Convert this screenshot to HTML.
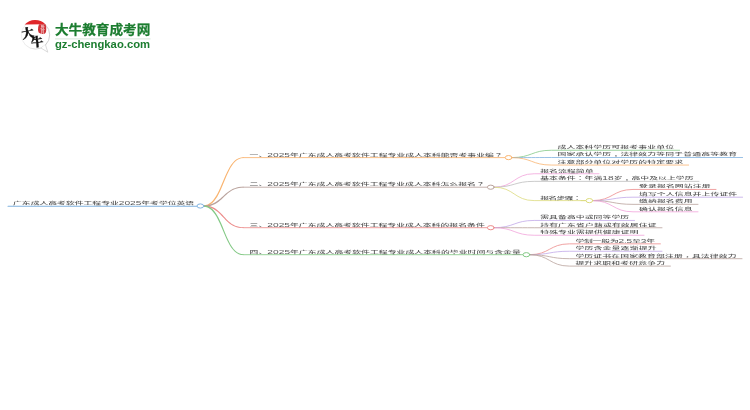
<!DOCTYPE html>
<html lang="zh-CN">
<head>
<meta charset="utf-8">
<title>广东成人高考软件工程专业2025年考学位英语</title>
<style>
html,body{margin:0;padding:0;background:#fff;}
body{width:750px;height:410px;overflow:hidden;position:relative;}
svg{position:absolute;left:0;top:0;display:block;will-change:transform;}
.map text{font-family:"Liberation Sans", "Noto Sans CJK SC", sans-serif;font-size:8.87px;font-weight:500;fill:#565656;}
.map .d{font-size:10.2px;}
.map .p{font-family:"Liberation Sans", "Noto Sans CJK TC", sans-serif;}
</style>
</head>
<body>
<svg class="map" width="750" height="410" viewBox="0 0 750 410">
<g class="logo">
<defs><linearGradient id="bg" x1="0" y1="0" x2="1" y2="0.35"><stop offset="0" stop-color="#f1f1f1"/><stop offset="0.55" stop-color="#e6e6e6"/><stop offset="1" stop-color="#c9c9c9"/></linearGradient></defs>
<circle cx="35.5" cy="34.9" r="14.2" fill="#fff" stroke="url(#bg)" stroke-width="0.9"/>
<path d="M45.3 44.6 L47.8 52.2 L41.3 48.1 Z" fill="#fff" stroke="none"/>
<path d="M45.4 44.6 L47.8 52.2 L41.2 48.2" fill="none" stroke="#d2d2d2" stroke-width="0.8" stroke-linejoin="round" stroke-linecap="round"/>
<path d="M24.6 24.6 A14.4 14.4 0 0 1 45.3 24.2 Z" fill="#e0262a"/>
<path d="M39 24.3 H45.6 Q46.6 27 46.2 30.5 Q46 33.6 43.5 34 Q40.5 34.4 38.6 32.6 Q37.6 30 38.2 27 Z" fill="#cf3338"/>
<text x="40.2" y="28.7" style="font-family:'Liberation Serif','Noto Serif CJK SC',serif;font-weight:700;font-size:4.4px;fill:#f3cfcf">教</text>
<text x="40.2" y="33" style="font-family:'Liberation Serif','Noto Serif CJK SC',serif;font-weight:700;font-size:4.4px;fill:#f3cfcf">育</text>
<text x="21.6" y="37.8" style="font-family:'Liberation Serif','Noto Serif CJK SC',serif;font-weight:900;font-size:12.4px;fill:#111;stroke:#111;stroke-width:0.35" transform="rotate(-10 27 33)">大</text>
<text x="31" y="46.5" style="font-family:'Liberation Serif','Noto Serif CJK SC',serif;font-weight:900;font-size:12.4px;fill:#111;stroke:#111;stroke-width:0.35" transform="rotate(-6 37 42)">牛</text>
<text x="54.9" y="34.1" textLength="95.4" lengthAdjust="spacingAndGlyphs" style="font-family:'Liberation Sans','Noto Sans CJK SC',sans-serif;font-weight:bold;font-size:12.9px;fill:#1c7d30;stroke:#1c7d30;stroke-width:0.25">大牛教育成考网</text>
<path d="M55 38.9H150.5" stroke="#d3e4d6" stroke-width="0.9"/>
<text x="54.9" y="47.5" textLength="95.2" lengthAdjust="spacingAndGlyphs" style="font-family:'Liberation Sans',sans-serif;font-weight:bold;font-size:11.5px;fill:#1c7d30">gz-chengkao.com</text>
</g>

<g stroke-linecap="round">
<path d="M8 206.2H197" stroke="#81b3df" stroke-width="1.05" fill="none"/>
<text transform="translate(13.00 205.15) scale(1 0.46)" textLength="181.20" lengthAdjust="spacing">广东成人高考软件工程专业<tspan class="d">2025</tspan>年考学位英语</text>
<path d="M203.40 206.75L205.96 206.48L208.31 205.71L210.45 204.51L212.41 202.92L214.21 201.01L215.86 198.82L217.39 196.38L218.82 193.75L220.18 190.95L221.48 188.04L222.75 185.05L223.99 182.02L225.24 179.00L226.49 176.03L227.78 173.15L229.12 170.39L230.53 167.81L232.01 165.45L233.59 163.34L235.29 161.54L237.10 160.07L239.06 158.97L241.19 158.27L243.50 158.03L243.50 157.17L241.01 157.42L238.70 158.14L236.58 159.29L234.63 160.83L232.84 162.71L231.18 164.87L229.63 167.29L228.17 169.90L226.79 172.68L225.47 175.58L224.18 178.56L222.91 181.58L221.64 184.59L220.36 187.55L219.04 190.42L217.68 193.16L216.26 195.72L214.75 198.06L213.16 200.13L211.47 201.90L209.66 203.33L207.73 204.38L205.65 205.03L203.40 205.25Z" fill="#f9b470" stroke="none"/>
<path d="M243 157.6H505.20" stroke="#f9b470" stroke-width="0.85" fill="none"/>
<text transform="translate(249.60 156.55) scale(1 0.46)" textLength="253.20" lengthAdjust="spacing">一、<tspan class="d">2025</tspan>年广东成人高考软件工程专业成人本科能否考事业编<tspan class="p" lang="zh-TW">？</tspan></text>
<path d="M203.40 206.75L205.86 206.64L208.14 206.34L210.24 205.88L212.18 205.26L213.97 204.51L215.63 203.65L217.18 202.68L218.64 201.64L220.01 200.54L221.33 199.39L222.60 198.21L223.85 197.03L225.10 195.85L226.35 194.69L227.64 193.57L228.97 192.50L230.36 191.50L231.84 190.58L233.42 189.76L235.12 189.04L236.96 188.46L238.96 188.02L241.13 187.73L243.50 187.62L243.50 186.77L241.06 186.86L238.81 187.12L236.72 187.56L234.80 188.14L233.01 188.86L231.35 189.70L229.79 190.63L228.33 191.65L226.94 192.73L225.61 193.85L224.32 195.01L223.05 196.17L221.79 197.33L220.51 198.47L219.21 199.57L217.87 200.61L216.46 201.59L214.98 202.48L213.40 203.27L211.70 203.95L209.88 204.51L207.90 204.92L205.74 205.17L203.40 205.25Z" fill="#b9a29c" stroke="none"/>
<path d="M243 187.2H487.40" stroke="#b9a29c" stroke-width="0.85" fill="none"/>
<text transform="translate(249.60 186.15) scale(1 0.46)" textLength="235.20" lengthAdjust="spacing">二、<tspan class="d">2025</tspan>年广东成人高考软件工程专业成人本科怎么报名<tspan class="p" lang="zh-TW">？</tspan></text>
<path d="M203.40 206.75L205.74 206.84L207.88 207.14L209.85 207.61L211.67 208.25L213.36 209.04L214.94 209.95L216.42 210.98L217.83 212.11L219.18 213.32L220.48 214.59L221.76 215.91L223.02 217.25L224.29 218.60L225.58 219.93L226.91 221.23L228.30 222.48L229.76 223.65L231.32 224.73L232.99 225.70L234.78 226.53L236.71 227.21L238.80 227.72L241.05 228.03L243.50 228.12L243.50 227.27L241.14 227.15L238.97 226.83L236.98 226.32L235.14 225.65L233.45 224.83L231.87 223.88L230.39 222.83L229.00 221.67L227.67 220.44L226.38 219.15L225.12 217.81L223.88 216.45L222.63 215.09L221.36 213.73L220.05 212.41L218.67 211.14L217.22 209.94L215.67 208.83L214.00 207.83L212.21 206.97L210.26 206.25L208.16 205.72L205.87 205.38L203.40 205.25Z" fill="#ec8c8b" stroke="none"/>
<path d="M243 227.7H487.40" stroke="#ec8c8b" stroke-width="0.85" fill="none"/>
<text transform="translate(249.60 226.65) scale(1 0.46)" textLength="235.20" lengthAdjust="spacing">三、<tspan class="d">2025</tspan>年广东成人高考软件工程专业成人本科的报名条件</text>
<path d="M203.40 206.75L205.65 206.97L207.73 207.62L209.66 208.68L211.46 210.12L213.16 211.90L214.75 213.99L216.26 216.34L217.68 218.92L219.04 221.67L220.36 224.56L221.64 227.54L222.91 230.57L224.18 233.61L225.47 236.60L226.79 239.52L228.17 242.32L229.63 244.95L231.18 247.38L232.84 249.56L234.63 251.44L236.58 252.99L238.70 254.16L241.00 254.88L243.50 255.12L243.50 254.27L241.19 254.02L239.06 253.33L237.10 252.22L235.29 250.74L233.59 248.92L232.01 246.80L230.53 244.43L229.12 241.83L227.78 239.06L226.49 236.16L225.24 233.17L223.99 230.13L222.75 227.08L221.48 224.07L220.18 221.14L218.82 218.33L217.39 215.68L215.86 213.23L214.21 211.02L212.41 209.10L210.46 207.51L208.31 206.30L205.96 205.53L203.40 205.25Z" fill="#84c986" stroke="none"/>
<path d="M243 254.7H523.00" stroke="#84c986" stroke-width="0.85" fill="none"/>
<text transform="translate(249.60 253.65) scale(1 0.46)" textLength="271.20" lengthAdjust="spacing">四、<tspan class="d">2025</tspan>年广东成人高考软件工程专业成人本科的毕业时间与含金量</text>
<path d="M512.00 157.60C531.70 157.60 531.70 150.25 551.40 150.25H679.60" stroke="#84c986" stroke-width="0.8" fill="none"/>
<text transform="translate(557.40 149.20) scale(1 0.46)" textLength="116.80" lengthAdjust="spacing">成人本科学历可报考事业单位</text>
<path d="M512.00 157.60C531.70 157.60 531.70 157.50 551.40 157.50H742.60" stroke="#81b3df" stroke-width="0.8" fill="none"/>
<text transform="translate(557.40 156.45) scale(1 0.46)" textLength="179.80" lengthAdjust="spacing">国家承认学历<tspan class="p" lang="zh-TW" dy="3.2">，</tspan><tspan dy="-3.2">法</tspan>律效力等同于普通高等教育</text>
<path d="M512.00 157.60C531.70 157.60 531.70 165.05 551.40 165.05H688.60" stroke="#f9b470" stroke-width="0.8" fill="none"/>
<text transform="translate(557.40 164.00) scale(1 0.46)" textLength="125.80" lengthAdjust="spacing">注意部分单位对学历的特定要求</text>
<path d="M494.20 187.20C514.20 187.20 514.20 173.75 534.20 173.75H599.00" stroke="#f1a3da" stroke-width="0.8" fill="none"/>
<text transform="translate(540.20 172.70) scale(1 0.46)" textLength="53.40" lengthAdjust="spacing">报名流程简单</text>
<path d="M494.20 187.20C514.20 187.20 514.20 181.35 534.20 181.35H699.00" stroke="#bebebe" stroke-width="0.8" fill="none"/>
<text transform="translate(540.20 180.30) scale(1 0.46)" textLength="153.40" lengthAdjust="spacing">基本条件<tspan class="p" lang="zh-TW">：</tspan>年满<tspan class="d">18</tspan>岁<tspan class="p" lang="zh-TW" dy="3.2">，</tspan><tspan dy="-3.2">高</tspan>中及以上学历</text>
<path d="M494.20 187.20C514.20 187.20 514.20 200.60 534.20 200.60H587.00" stroke="#dcdb7e" stroke-width="0.8" fill="none"/>
<text transform="translate(540.20 199.55) scale(1 0.46)" textLength="41.40" lengthAdjust="spacing">报名步骤<tspan class="p" lang="zh-TW">：</tspan></text>
<path d="M494.20 227.70C514.20 227.70 514.20 220.45 534.20 220.45H634.60" stroke="#c2a8e8" stroke-width="0.8" fill="none"/>
<text transform="translate(540.20 219.40) scale(1 0.46)" textLength="89.00" lengthAdjust="spacing">需具备高中或同等学历</text>
<path d="M494.20 227.70C514.20 227.70 514.20 227.75 534.20 227.75H662.00" stroke="#b9a29c" stroke-width="0.8" fill="none"/>
<text transform="translate(540.20 226.70) scale(1 0.46)" textLength="116.40" lengthAdjust="spacing">持有广东省户籍或有效居住证</text>
<path d="M494.20 227.70C514.20 227.70 514.20 235.25 534.20 235.25H644.00" stroke="#f1a3da" stroke-width="0.8" fill="none"/>
<text transform="translate(540.20 234.20) scale(1 0.46)" textLength="98.40" lengthAdjust="spacing">特殊专业需提供健康证明</text>
<path d="M529.80 254.70C549.60 254.70 549.60 243.85 569.40 243.85H660.40" stroke="#ec8c8b" stroke-width="0.8" fill="none"/>
<text transform="translate(575.40 242.80) scale(1 0.46)" textLength="79.60" lengthAdjust="spacing">学制一般为<tspan class="d">2.5</tspan>至<tspan class="d">3</tspan>年</text>
<path d="M529.80 254.70C549.60 254.70 549.60 251.25 569.40 251.25H662.00" stroke="#c2a8e8" stroke-width="0.8" fill="none"/>
<text transform="translate(575.40 250.20) scale(1 0.46)" textLength="81.20" lengthAdjust="spacing">学历含金量逐渐提升</text>
<path d="M529.80 254.70C549.60 254.70 549.60 258.70 569.40 258.70H742.00" stroke="#b9a29c" stroke-width="0.8" fill="none"/>
<text transform="translate(575.40 257.65) scale(1 0.46)" textLength="161.20" lengthAdjust="spacing">学历证书在国家教育部注册<tspan class="p" lang="zh-TW" dy="3.2">，</tspan><tspan dy="-3.2">具</tspan>法律效力</text>
<path d="M529.80 254.70C549.60 254.70 549.60 266.10 569.40 266.10H670.40" stroke="#b9a29c" stroke-width="0.8" fill="none"/>
<text transform="translate(575.40 265.05) scale(1 0.46)" textLength="89.60" lengthAdjust="spacing">提升求职和考研竞争力</text>
<path d="M581 200.6H586.0" stroke="#dcdb7e" stroke-width="0.9" fill="none"/>
<path d="M592.80 200.60C612.90 200.60 612.90 189.45 633.00 189.45H716.00" stroke="#ec8c8b" stroke-width="0.8" fill="none"/>
<text transform="translate(639.00 188.40) scale(1 0.46)" textLength="71.60" lengthAdjust="spacing">登录报名网站注册</text>
<path d="M592.80 200.60C612.90 200.60 612.90 197.20 633.00 197.20H742.60" stroke="#c2a8e8" stroke-width="0.8" fill="none"/>
<text transform="translate(639.00 196.15) scale(1 0.46)" textLength="98.20" lengthAdjust="spacing">填写个人信息并上传证件</text>
<path d="M592.80 200.60C612.90 200.60 612.90 204.35 633.00 204.35H698.00" stroke="#b9a29c" stroke-width="0.8" fill="none"/>
<text transform="translate(639.00 203.30) scale(1 0.46)" textLength="53.60" lengthAdjust="spacing">缴纳报名费用</text>
<path d="M592.80 200.60C612.90 200.60 612.90 211.80 633.00 211.80H698.00" stroke="#f1a3da" stroke-width="0.8" fill="none"/>
<text transform="translate(639.00 210.75) scale(1 0.46)" textLength="53.60" lengthAdjust="spacing">确认报名信息</text>
<ellipse cx="589.40" cy="200.60" rx="3.4" ry="2.1" stroke="#dcdb7e" stroke-width="1" fill="#fff"/>
<ellipse cx="508.60" cy="157.60" rx="3.4" ry="2.1" stroke="#f9b470" stroke-width="1" fill="#fff"/>
<ellipse cx="490.80" cy="187.20" rx="3.4" ry="2.1" stroke="#b9a29c" stroke-width="1" fill="#fff"/>
<ellipse cx="490.80" cy="227.70" rx="3.4" ry="2.1" stroke="#ec8c8b" stroke-width="1" fill="#fff"/>
<ellipse cx="526.40" cy="254.70" rx="3.4" ry="2.1" stroke="#84c986" stroke-width="1" fill="#fff"/>
<ellipse cx="200.40" cy="206.00" rx="3.4" ry="2.1" stroke="#81b3df" stroke-width="1" fill="#fff"/>
</g>
</svg>
</body>
</html>
